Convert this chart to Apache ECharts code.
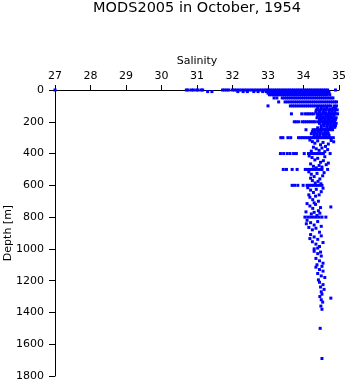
<!DOCTYPE html>
<html>
<head>
<meta charset="utf-8">
<script src="https://cdn.jsdelivr.net/npm/echarts@6/dist/echarts.min.js"></script>
<style>
  html, body { margin: 0; padding: 0; background: #fff; }
  #chart { width: 348px; height: 384px; }
</style>
</head>
<body>
<div id="chart"></div>
<script>
// Salinity readings grouped by standard observation depth (m)
const sal0 = [27.0, 30.7, 30.75, 30.84, 30.9, 30.99, 31.03, 31.12, 31.16, 31.72, 31.78, 31.84, 31.9, 32.0, 32.06, 32.12, 32.19, 32.26, 32.33, 32.4, 32.47, 32.54, 32.61, 32.68, 32.75, 32.82, 32.89, 32.95, 33.0, 33.06, 33.12, 33.18, 33.24, 33.3, 33.36, 33.42, 33.48, 33.54, 33.6, 33.66, 33.72, 33.78, 33.84, 33.9, 33.96, 34.02, 34.08, 34.14, 34.2, 34.26, 34.32, 34.38, 34.44, 34.5, 34.56, 34.62, 34.68, 34.9];
const sal10 = [31.3, 31.42, 32.15, 32.3, 32.42, 32.6, 32.72, 32.85, 32.95, 33.02, 33.08, 33.14, 33.2, 33.26, 33.32, 33.38, 33.44, 33.5, 33.56, 33.62, 33.68, 33.74, 33.8, 33.86, 33.92, 33.98, 34.04, 34.1, 34.16, 34.22, 34.28, 34.34, 34.4, 34.46, 34.52, 34.58, 34.64, 34.71];
const sal20 = [33.0, 33.05, 33.11, 33.17, 33.23, 33.29, 33.35, 33.41, 33.47, 33.53, 33.59, 33.65, 33.71, 33.77, 33.83, 33.89, 33.95, 34.01, 34.07, 34.13, 34.19, 34.25, 34.31, 34.37, 34.43, 34.49, 34.55, 34.61, 34.67, 34.72];
const sal30 = [33.04, 33.1, 33.16, 33.22, 33.28, 33.34, 33.4, 33.46, 33.52, 33.58, 33.64, 33.7, 33.76, 33.82, 33.88, 33.94, 34.0, 34.06, 34.12, 34.18, 34.24, 34.3, 34.36, 34.42, 34.48, 34.54, 34.6, 34.66, 34.74];
const sal50 = [33.17, 33.25, 33.4, 33.46, 33.52, 33.58, 33.64, 33.7, 33.76, 33.82, 33.88, 33.94, 34.0, 34.06, 34.12, 34.18, 34.24, 34.3, 34.36, 34.42, 34.48, 34.54, 34.6, 34.66, 34.72, 34.78, 34.83];
const sal75 = [33.3, 33.48, 33.55, 33.62, 33.68, 33.74, 33.8, 33.86, 33.92, 33.98, 34.04, 34.1, 34.16, 34.22, 34.28, 34.34, 34.4, 34.46, 34.52, 34.58, 34.64, 34.7, 34.76, 34.82, 34.88, 34.93];
const sal100 = [33.0, 33.63, 33.69, 33.75, 33.81, 33.87, 33.93, 33.99, 34.05, 34.11, 34.17, 34.23, 34.29, 34.35, 34.41, 34.47, 34.53, 34.59, 34.65, 34.71, 34.76, 34.86, 34.93];
const sal125 = [34.36, 34.42, 34.5, 34.58, 34.64, 34.72, 34.8, 34.88, 34.95];
const sal150 = [33.66, 33.95, 34.04, 34.1, 34.16, 34.22, 34.28, 34.38, 34.44, 34.5, 34.56, 34.62, 34.68, 34.74, 34.8, 34.86, 34.92, 34.96];
const sal175 = [34.38, 34.46, 34.54, 34.6, 34.68, 34.76, 34.84, 34.92];
const sal200 = [33.74, 33.8, 33.87, 33.97, 34.03, 34.09, 34.15, 34.21, 34.27, 34.32, 34.4, 34.46, 34.52, 34.58, 34.64, 34.7, 34.76, 34.82, 34.88];
const sal225 = [34.5, 34.58, 34.66, 34.74, 34.82, 34.9];
const sal250 = [34.07, 34.27, 34.33, 34.39, 34.45, 34.51, 34.57, 34.63, 34.69, 34.75, 34.82];
const sal275 = [34.22, 34.3, 34.38, 34.46, 34.54, 34.62, 34.7];
const sal300 = [33.36, 33.42, 33.56, 33.64, 33.86, 33.92, 33.98, 34.04, 34.1, 34.16, 34.22, 34.28, 34.34, 34.4, 34.46, 34.52, 34.58, 34.64, 34.7, 34.76, 34.84];
const sal400 = [33.35, 33.44, 33.54, 33.62, 33.72, 33.8, 34.02, 34.14, 34.2, 34.26, 34.32, 34.38, 34.44, 34.5, 34.56, 34.75];
const sal500 = [33.43, 33.52, 33.68, 33.82, 34.05, 34.11, 34.17, 34.23, 34.29, 34.35, 34.41, 34.47, 34.52, 34.68];
const sal600 = [33.68, 33.75, 33.84, 33.99, 34.1, 34.16, 34.22, 34.28, 34.34, 34.4, 34.46, 34.52];

const levelDepths = [0, 10, 20, 30, 50, 75, 100, 125, 150, 175, 200, 225, 250, 275, 300, 400, 500, 600];
const levelSalinity = [sal0, sal10, sal20, sal30, sal50, sal75, sal100, sal125, sal150, sal175, sal200, sal225, sal250, sal275, sal300, sal400, sal500, sal600];

// Casts reported between standard depths: [salinity, depth]
const castsUpper = [
  [34.4, 115], [34.5, 112], [34.58, 118], [34.66, 113], [34.75, 120], [34.83, 116], [34.9, 110],
  [34.35, 138], [34.45, 135], [34.55, 140], [34.62, 143], [34.72, 138], [34.8, 135], [34.88, 142],
  [34.4, 165], [34.48, 162], [34.56, 168], [34.64, 160], [34.7, 163], [34.78, 166], [34.86, 160],
  [34.45, 188], [34.52, 185], [34.6, 190], [34.68, 186], [34.74, 192], [34.82, 188], [34.9, 185],
  [34.45, 210], [34.55, 213], [34.62, 210], [34.7, 214], [34.78, 212], [34.86, 215], [34.92, 210],
  [34.4, 238], [34.5, 240], [34.58, 245], [34.66, 236], [34.74, 242], [34.8, 238], [34.88, 235],
  [34.25, 262], [34.33, 265], [34.42, 262], [34.5, 260], [34.6, 264], [34.68, 262],
  [34.3, 290], [34.38, 286], [34.46, 292], [34.56, 288], [34.64, 290], [34.72, 286]
];
const castsMiddle = [
  [34.18, 315], [34.25, 325], [34.32, 335], [34.4, 320], [34.48, 345], [34.55, 330], [34.62, 355], [34.7, 340], [34.78, 318], [34.85, 326],
  [34.28, 360], [34.36, 370], [34.44, 380], [34.52, 365], [34.6, 388], [34.22, 385], [34.68, 375],
  [34.16, 415], [34.24, 425], [34.32, 440], [34.4, 430], [34.48, 455], [34.56, 445], [34.64, 470], [34.6, 420], [34.7, 460],
  [34.2, 465], [34.28, 480], [34.36, 490], [34.44, 475], [34.52, 485],
  [34.15, 515], [34.22, 530], [34.3, 545], [34.38, 525], [34.46, 560], [34.54, 540], [34.58, 520],
  [34.25, 570], [34.33, 585], [34.41, 575], [34.49, 590], [34.2, 555],
  [34.12, 615], [34.2, 630], [34.28, 645], [34.36, 625], [34.44, 660], [34.5, 640], [34.55, 618], [34.15, 660],
  [34.18, 675], [34.26, 690], [34.34, 668], [34.42, 700], [34.3, 710],
  [34.1, 715], [34.18, 730], [34.26, 745], [34.34, 720], [34.42, 760], [34.48, 740], [34.77, 736],
  [34.07, 767], [34.22, 780], [34.3, 770], [34.38, 790], [34.46, 775],
  [34.04, 800], [34.12, 800], [34.2, 800], [34.28, 800], [34.36, 800], [34.44, 800], [34.52, 800], [34.63, 800]
];
const castsDeep = [
  [34.1, 820], [34.2, 835], [34.3, 850], [34.4, 828], [34.15, 865], [34.25, 880], [34.35, 870], [34.45, 895], [34.08, 842], [34.5, 858],
  [34.2, 910], [34.3, 925], [34.4, 940], [34.5, 918], [34.25, 955], [34.35, 970], [34.45, 985], [34.55, 960], [34.3, 1000], [34.4, 995], [34.18, 935],
  [34.3, 1015], [34.4, 1030], [34.5, 1045], [34.35, 1060], [34.45, 1075], [34.55, 1090], [34.38, 1100], [34.48, 1020],
  [34.35, 1115], [34.45, 1130], [34.55, 1140], [34.4, 1155], [34.5, 1170], [34.6, 1180], [34.42, 1195], [34.52, 1110],
  [34.45, 1210], [34.55, 1225], [34.48, 1240], [34.58, 1255], [34.5, 1270], [34.52, 1285], [34.46, 1300], [34.77, 1310],
  [34.5, 1320], [34.54, 1335], [34.49, 1360], [34.52, 1380],
  [34.47, 1500], [34.52, 1690]
];

const points = [];
levelDepths.forEach((d, i) => levelSalinity[i].forEach(s => points.push([s, d])));
castsUpper.concat(castsMiddle, castsDeep).forEach(p => points.push(p));

const FONT = 'DejaVu Sans';
const chart = echarts.init(document.getElementById('chart'), null, { renderer: 'canvas' });
chart.setOption({
  animation: false,
  backgroundColor: '#fff',
  textStyle: { fontFamily: FONT, color: '#000' },
  graphic: [{
    type: 'text',
    x: 197, y: 1,
    style: {
      text: 'MODS2005 in October, 1954',
      fontFamily: FONT, fontSize: 14.5, fill: '#000',
      textAlign: 'center', textVerticalAlign: 'top'
    }
  }],
  grid: { left: 55, top: 90, right: 9, bottom: 8, containLabel: false, outerBoundsMode: 'none' },
  xAxis: {
    type: 'value', position: 'top', min: 27, max: 35, interval: 1,
    name: 'Salinity', nameLocation: 'middle', nameGap: 23, nameMoveOverlap: false,
    nameTextStyle: { fontFamily: FONT, fontSize: 11, color: '#000' },
    axisLine: { show: true, onZero: false, lineStyle: { color: '#000', width: 1 } },
    axisTick: { show: true, length: 5, lineStyle: { color: '#000', width: 1 } },
    axisLabel: { margin: 8, fontFamily: FONT, fontSize: 11, color: '#000' },
    splitLine: { show: false }
  },
  yAxis: {
    type: 'value', inverse: true, min: 0, max: 1800, interval: 200,
    name: 'Depth [m]', nameLocation: 'middle', nameGap: 41, nameRotate: 90, nameMoveOverlap: false,
    nameTextStyle: { fontFamily: FONT, fontSize: 11, color: '#000' },
    axisLine: { show: true, onZero: false, lineStyle: { color: '#000', width: 1 } },
    axisTick: { show: true, length: 6, lineStyle: { color: '#000', width: 1 } },
    axisLabel: { margin: 11, fontFamily: FONT, fontSize: 11, color: '#000', formatter: v => String(v) },
    splitLine: { show: false }
  },
  series: [{
    type: 'scatter',
    data: points,
    symbol: 'rect',
    symbolSize: 3,
    itemStyle: { color: '#0000ff', opacity: 1 },
    emphasis: { disabled: true },
    clip: false
  }]
});
</script>
</body>
</html>
